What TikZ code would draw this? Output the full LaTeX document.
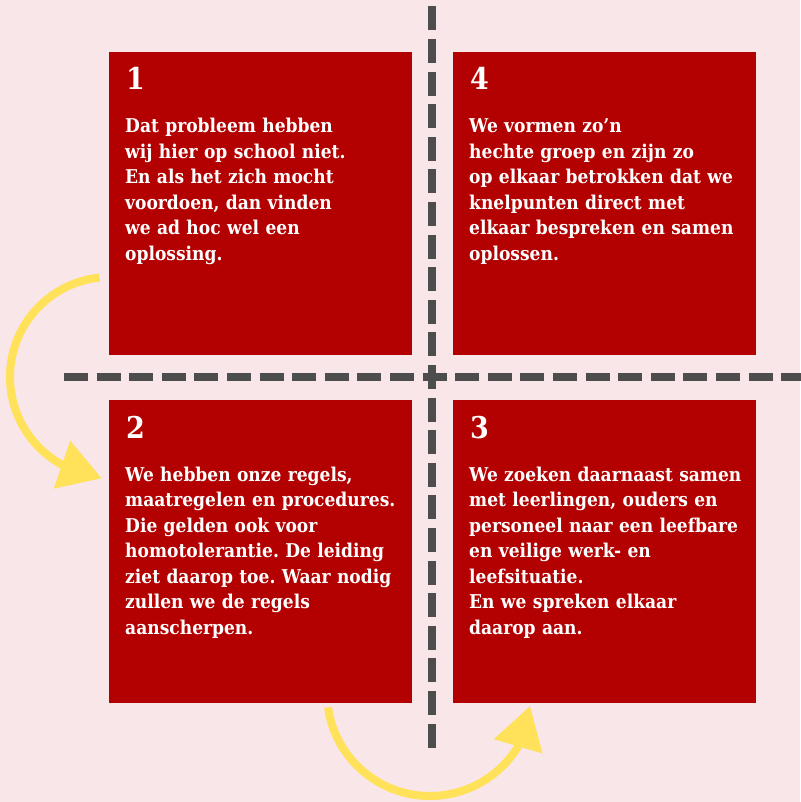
\documentclass[tikz,border=0pt]{standalone}
\usepackage{fontspec}
\setmainfont{DejaVu Serif}[FakeStretch=0.9]
\usetikzlibrary{arrows.meta, positioning}
\definecolor{bgpink}{HTML}{F8E6E8}
\definecolor{boxred}{HTML}{B30000}
\definecolor{sepgrey}{HTML}{4D4D4D}
\definecolor{flowyellow}{HTML}{FFE15A}
\frenchspacing

\begin{document}
\begin{tikzpicture}[x=1pt, y=-1pt,
  box/.style={fill=boxred, minimum width=303pt, minimum height=303pt, inner sep=0pt, anchor=north west},
  num/.style={anchor=base west, inner sep=0pt, text=white, font=\bfseries\fontsize{30}{31}\selectfont},
  txt/.style={anchor=base west, inner sep=0pt, text=white, align=left, text width=290pt, font=\bfseries\fontsize{19}{25.5}\selectfont},
  sep/.style={draw=sepgrey, line width=8pt, dash pattern=on 24pt off 8.6pt},
  flow/.style={draw=flowyellow, line width=8pt, -{Triangle[length=42pt, width=48.5pt]}}]
    \useasboundingbox (0,0) rectangle (800,802);
    \fill[bgpink] (0,0) rectangle (800,802);
    % dashed cross
    \draw[sep] (64,377) -- (802.6,377);
    \draw[sep] (432,6.4) -- (432,747.6);
    % the four boxes
    \node[box] (b1) at (109,52) {};
    \node[box] (b4) at (453,52) {};
    \node[box] (b2) at (109,400) {};
    \node[box] (b3) at (453,400) {};
    \node[num] (n1) at ([xshift=17pt, yshift=-38pt]b1.north west) {1};
    \node[num] (n4) at ([xshift=17pt, yshift=-38pt]b4.north west) {4};
    \node[num] (n2) at ([xshift=17pt, yshift=-38pt]b2.north west) {2};
    \node[num] (n3) at ([xshift=17pt, yshift=-38pt]b3.north west) {3};
    \node[txt] (t1) at ([xshift=16pt, yshift=-81pt]b1.north west)
        {Dat probleem hebben\\wij hier op school niet.\\En als het zich mocht\\voordoen, dan vinden\\we ad hoc wel een\\oplossing.};
    \node[txt] (t4) at ([xshift=16pt, yshift=-81pt]b4.north west)
        {We vormen zo’n\\hechte groep en zijn zo\\op elkaar betrokken dat we\\knelpunten direct met\\elkaar bespreken en samen\\oplossen.};
    \node[txt] (t2) at ([xshift=16pt, yshift=-81pt]b2.north west)
        {We hebben onze regels,\\maatregelen en procedures.\\Die gelden ook voor\\homotolerantie. De leiding\\ziet daarop toe. Waar nodig\\zullen we de regels\\aanscherpen.};
    \node[txt] (t3) at ([xshift=16pt, yshift=-81pt]b3.north west)
        {We zoeken daarnaast samen\\met leerlingen, ouders en\\personeel naar een leefbare\\en veilige werk- en\\leefsituatie.\\En we spreken elkaar\\daarop aan.};
    % arrows 1 -> 2 and 2 -> 3
    \coordinate (cA) at (110,377);
    \coordinate (tipA) at (101.7,478.3);
    \coordinate (cB) at (430,693);
    \coordinate (tipB) at (530,706);
    \draw[flow] (cA) ++(264:100) arc[start angle=264, end angle=119, radius=100] -- (tipA);
    \draw[flow] (cB) ++(172:103) arc[start angle=172, end angle=31, radius=103] -- (tipB);
\end{tikzpicture}
\end{document}
